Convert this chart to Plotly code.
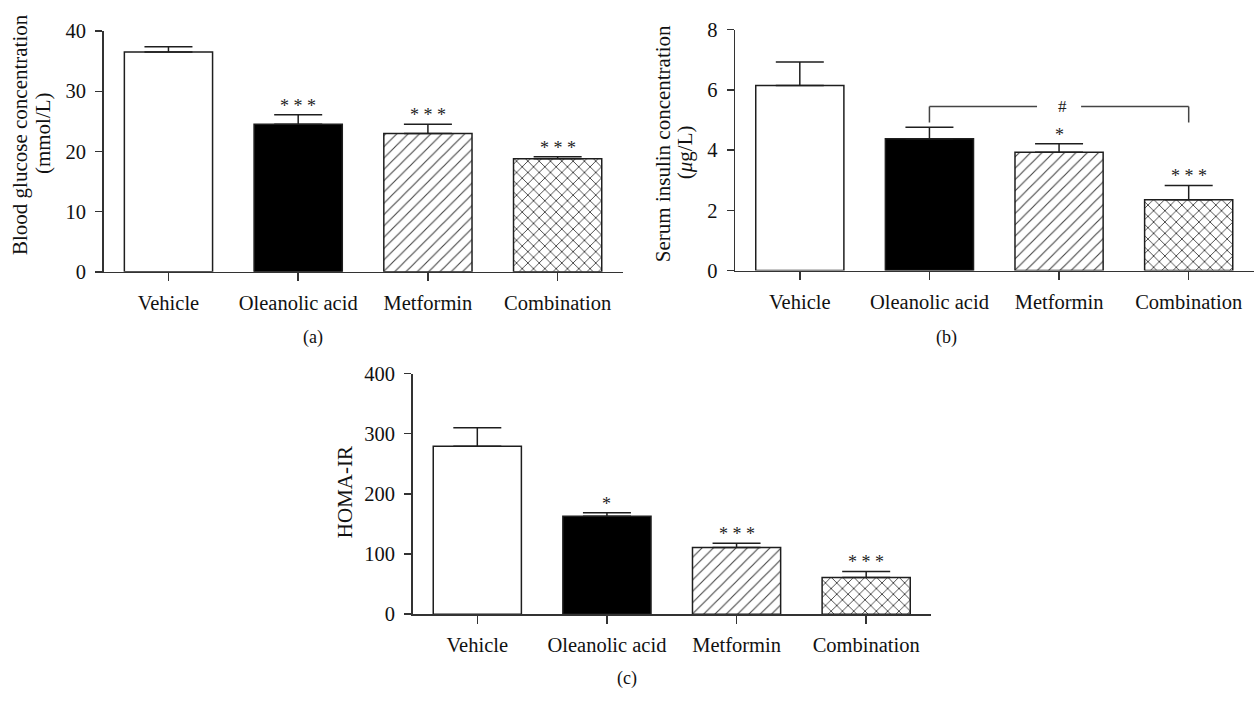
import plotly.graph_objects as go

# ---- data ----
categories = ["Vehicle", "Oleanolic acid", "Metformin", "Combination"]

glucose_mean = [36.5, 24.5, 23.0, 18.8]
glucose_sem = [0.9, 1.6, 1.5, 0.3]
glucose_sig = ["", "* * *", "* * *", "* * *"]

insulin_mean = [6.15, 4.38, 3.93, 2.35]
insulin_sem = [0.78, 0.38, 0.28, 0.48]
insulin_sig = ["", "", "*", "* * *"]

homa_mean = [279, 163, 111, 61]
homa_sem = [31, 5.5, 7, 10]
homa_sig = ["", "*", "* * *", "* * *"]

# comparison bracket in panel (b): Oleanolic acid vs Combination
bracket_from = 1
bracket_to = 3
bracket_top = 5.45
bracket_foot = 4.92
bracket_label = "#"

glucose_ticks = [0, 10, 20, 30, 40]
insulin_ticks = [0, 2, 4, 6, 8]
homa_ticks = [0, 100, 200, 300, 400]

# ---- styling ----
W, H = 1256, 702
FONT = "Liberation Serif, Times New Roman, serif"
INK = "#1e1e1e"
AXC = "#333333"
fills = ["white", "black", "white", "white"]
patterns = ["", "", "/", "x"]
pattern_solidity = [0.14, 0.14, 0.14, 0.22]


def px_x(p):
    return p / W


def px_y(p):
    return 1 - p / H


fig = go.Figure()

panels = [
    ("x", "y", glucose_mean, glucose_sem, glucose_sig),
    ("x2", "y2", insulin_mean, insulin_sem, insulin_sig),
    ("x3", "y3", homa_mean, homa_sem, homa_sig),
]

for xa, ya, mean, sem, sig in panels:
    fig.add_trace(go.Bar(
        x=categories, y=mean, xaxis=xa, yaxis=ya, width=0.68,
        marker=dict(
            color=fills,
            line=dict(color=INK, width=1.5),
            pattern=dict(shape=patterns, size=8, solidity=pattern_solidity,
                         fgcolor=INK, fgopacity=1, fillmode="overlay"),
        ),
        error_y=dict(type="data", array=sem, arrayminus=[0] * len(sem),
                     symmetric=False, color=INK, thickness=1.5, width=24),
        showlegend=False, hoverinfo="skip",
    ))
    for i, (m, s, t) in enumerate(zip(mean, sem, sig)):
        if t:
            fig.add_annotation(
                x=i, y=m + s, xref=xa, yref=ya, text=t, showarrow=False,
                yanchor="middle", yshift=9,
                font=dict(family=FONT, size=18, color=INK),
            )

# bracket
for x0, y0, x1, y1 in [
    (bracket_from, bracket_foot, bracket_from, bracket_top),
    (bracket_from, bracket_top, 2 - 0.17, bracket_top),
    (2 + 0.17, bracket_top, bracket_to, bracket_top),
    (bracket_to, bracket_top, bracket_to, bracket_foot),
]:
    fig.add_shape(type="line", xref="x2", yref="y2", x0=x0, y0=y0, x1=x1, y1=y1,
                  line=dict(color="#444444", width=1.5))
fig.add_annotation(x=2.03, y=bracket_top, xref="x2", yref="y2", text=bracket_label,
                   showarrow=False, yanchor="middle",
                   font=dict(family=FONT, size=17, color=INK))

axis_common = dict(
    showline=True, linecolor=AXC, linewidth=1.5, showgrid=False, zeroline=False,
    ticks="outside", tickcolor=AXC, tickwidth=1.5, fixedrange=True,
    tickfont=dict(family=FONT, size=20.5, color="#111111"),
)

fig.update_layout(
    width=W, height=H, margin=dict(l=0, r=0, t=0, b=0),
    paper_bgcolor="white", plot_bgcolor="white",
    xaxis=dict(domain=[px_x(103.6), px_x(622.5)], anchor="y", range=[-0.5, 3.5],
               ticklen=8, ticklabelstandoff=4, **axis_common),
    yaxis=dict(domain=[px_y(269.3), px_y(20.7)], anchor="x", range=[0, 40],
               tickvals=glucose_ticks, ticklen=7, ticklabelstandoff=5, **axis_common),
    xaxis2=dict(domain=[px_x(735), px_x(1253.5)], anchor="y2", range=[-0.5, 3.5],
                ticklen=8, ticklabelstandoff=4, **axis_common),
    yaxis2=dict(domain=[px_y(268), px_y(19.3)], anchor="x2", range=[0, 8],
                tickvals=insulin_ticks, ticklen=7, ticklabelstandoff=5, **axis_common),
    xaxis3=dict(domain=[px_x(412.5), px_x(931)], anchor="y3", range=[-0.5, 3.5],
                ticklen=8, ticklabelstandoff=4, **axis_common),
    yaxis3=dict(domain=[px_y(622.7), px_y(374.3)], anchor="x3", range=[0, 400],
                tickvals=homa_ticks, ticklen=7, ticklabelstandoff=5, **axis_common),
)

# axis titles and panel labels
texts = [
    ("Blood glucose concentration", 20, 128, -90, 21),
    ("(mmol/L)", 43, 126, -90, 21),
    ("Serum insulin concentration", 663, 137.5, -90, 21),
    ("(<i>μ</i>g/L)", 685, 145.8, -90, 21),
    ("HOMA-IR", 345, 496.7, -90, 21),
    ("(a)", 313, 337, 0, 18),
    ("(b)", 946, 337, 0, 18),
    ("(c)", 627, 689, 0, 18),
]
for t, x, y, ang, sz in texts:
    fig.add_annotation(x=px_x(x), y=px_y(y), xref="paper", yref="paper", text=t,
                       showarrow=False, textangle=ang, xanchor="center", yanchor="middle",
                       font=dict(family=FONT, size=sz, color="#111111"))

fig.write_html("out.html",
               config={"displayModeBar": False, "staticPlot": True},
               post_script="document.body.style.margin='0';"
                           "document.documentElement.style.overflow='hidden';")
